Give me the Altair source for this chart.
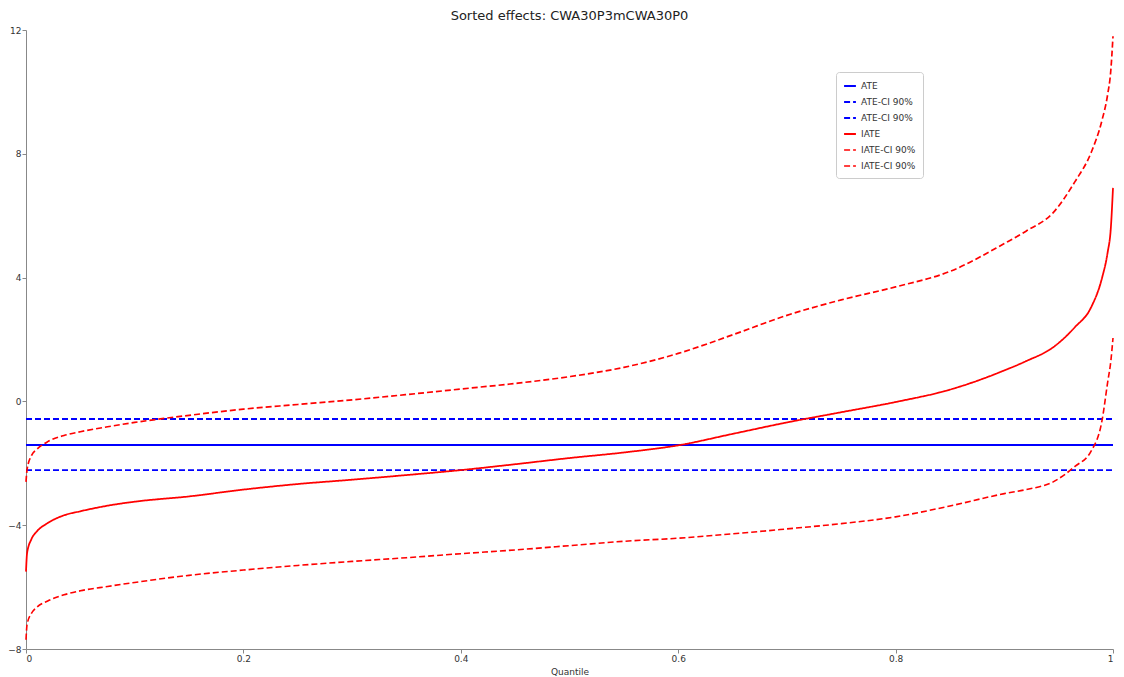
import altair as alt
import pandas as pd

title_text = "Sorted effects: CWA30P3mCWA30P0"

quantiles = [0, 0.001, 0.005, 0.01, 0.02, 0.035, 0.05, 0.075, 0.1, 0.15, 0.2, 0.25,
             0.3, 0.35, 0.4, 0.45, 0.5, 0.55, 0.6, 0.65, 0.7, 0.75, 0.8, 0.85, 0.9,
             0.92, 0.945, 0.965, 0.98, 0.99, 0.995, 0.998, 1]

iate = [-5.5, -4.9, -4.45, -4.2, -3.93, -3.68, -3.55, -3.37, -3.24, -3.07, -2.85, -2.67,
        -2.53, -2.38, -2.22, -2.03, -1.83, -1.65, -1.42, -1.05, -0.68, -0.35, -0.02, 0.38, 1.0,
        1.3, 1.75, 2.4, 3.05, 4.0, 4.8, 5.6, 6.9]

iate_upper = [-2.6, -2.2, -1.75, -1.55, -1.3, -1.1, -0.98, -0.82, -0.68, -0.45, -0.25, -0.1,
              0.05, 0.22, 0.4, 0.58, 0.8, 1.1, 1.55, 2.15, 2.78, 3.28, 3.7, 4.2, 5.1,
              5.5, 6.1, 7.1, 8.05, 9.1, 9.9, 10.7, 11.8]

iate_lower = [-7.7, -7.2, -6.85, -6.65, -6.45, -6.25, -6.12, -5.98, -5.85, -5.62, -5.45, -5.3,
              -5.17, -5.05, -4.92, -4.8, -4.66, -4.52, -4.42, -4.28, -4.12, -3.95, -3.73, -3.38, -2.98,
              -2.85, -2.6, -2.1, -1.6, -0.6, 0.6, 1.3, 2.05]

ate = -1.41
ate_upper = -0.57
ate_lower = -2.22

series = ["ATE", "ATE-CI 90% upper", "ATE-CI 90% lower",
          "IATE", "IATE-CI 90% upper", "IATE-CI 90% lower"]
colors = ["#0000ff", "#0000ff", "#0000ff", "#ff0000", "#ff0000", "#ff0000"]
dashes = [[1, 0], [6, 3], [6, 3], [1, 0], [6, 3], [6, 3]]
widths = [2, 1.6, 1.6, 2.5, 1.6, 1.6]

rows = []
for name, val in zip(series[:3], [ate, ate_upper, ate_lower]):
    for q in [0, 1]:
        rows.append({"series": name, "q": q, "v": val})
for name, vals in zip(series[3:], [iate, iate_upper, iate_lower]):
    for q, v in zip(quantiles, vals):
        rows.append({"series": name, "q": q, "v": v})
df = pd.DataFrame(rows)

label_expr = "replace(replace(datum.label, ' upper', ''), ' lower', '')"

chart = alt.Chart(df).mark_line(interpolate="monotone").encode(
    x=alt.X("q:Q", title="Quantile",
            scale=alt.Scale(domain=[0, 1], nice=False),
            axis=alt.Axis(values=[0, 0.2, 0.4, 0.6, 0.8, 1], format="~g")),
    y=alt.Y("v:Q", title=None,
            scale=alt.Scale(domain=[-8, 12], nice=False),
            axis=alt.Axis(values=[-8, -4, 0, 4, 8, 12])),
    color=alt.Color("series:N", scale=alt.Scale(domain=series, range=colors),
                    legend=alt.Legend(title=None, orient="none", legendX=810, legendY=42,
                                      symbolType="stroke", labelExpr=label_expr)),
    strokeDash=alt.StrokeDash("series:N", scale=alt.Scale(domain=series, range=dashes),
                              legend=alt.Legend(title=None, orient="none", legendX=810, legendY=42,
                                                symbolType="stroke", labelExpr=label_expr)),
    strokeWidth=alt.StrokeWidth("series:N", scale=alt.Scale(domain=series, range=widths), legend=None),
    detail="series:N",
).properties(
    width=1087, height=619,
    title=alt.TitleParams(title_text, fontSize=13, fontWeight="normal", font="DejaVu Sans",
                          color="#222222", anchor="middle", offset=3),
    autosize=alt.AutoSizeParams(type="none"),
    padding={"left": 18, "top": 22, "right": 3, "bottom": 28},
).configure_view(stroke=None).configure_axis(
    grid=False, domainColor="#888888", tickColor="#888888", labelColor="#333333",
    labelFont="DejaVu Sans", labelFontSize=9, tickSize=4, labelPadding=1,
    titleFont="DejaVu Sans", titleFontSize=9, titleFontWeight="normal", titleColor="#333333",
    titlePadding=4,
).configure_legend(
    labelFont="DejaVu Sans", labelFontSize=9, labelColor="#333333",
    strokeColor="#cccccc", fillColor="#ffffff", padding=7, cornerRadius=3,
    rowPadding=4, symbolSize=140, symbolStrokeWidth=1.6, labelOffset=4,
)

chart.save("out.html", embed_options={"renderer": "svg", "actions": False})
